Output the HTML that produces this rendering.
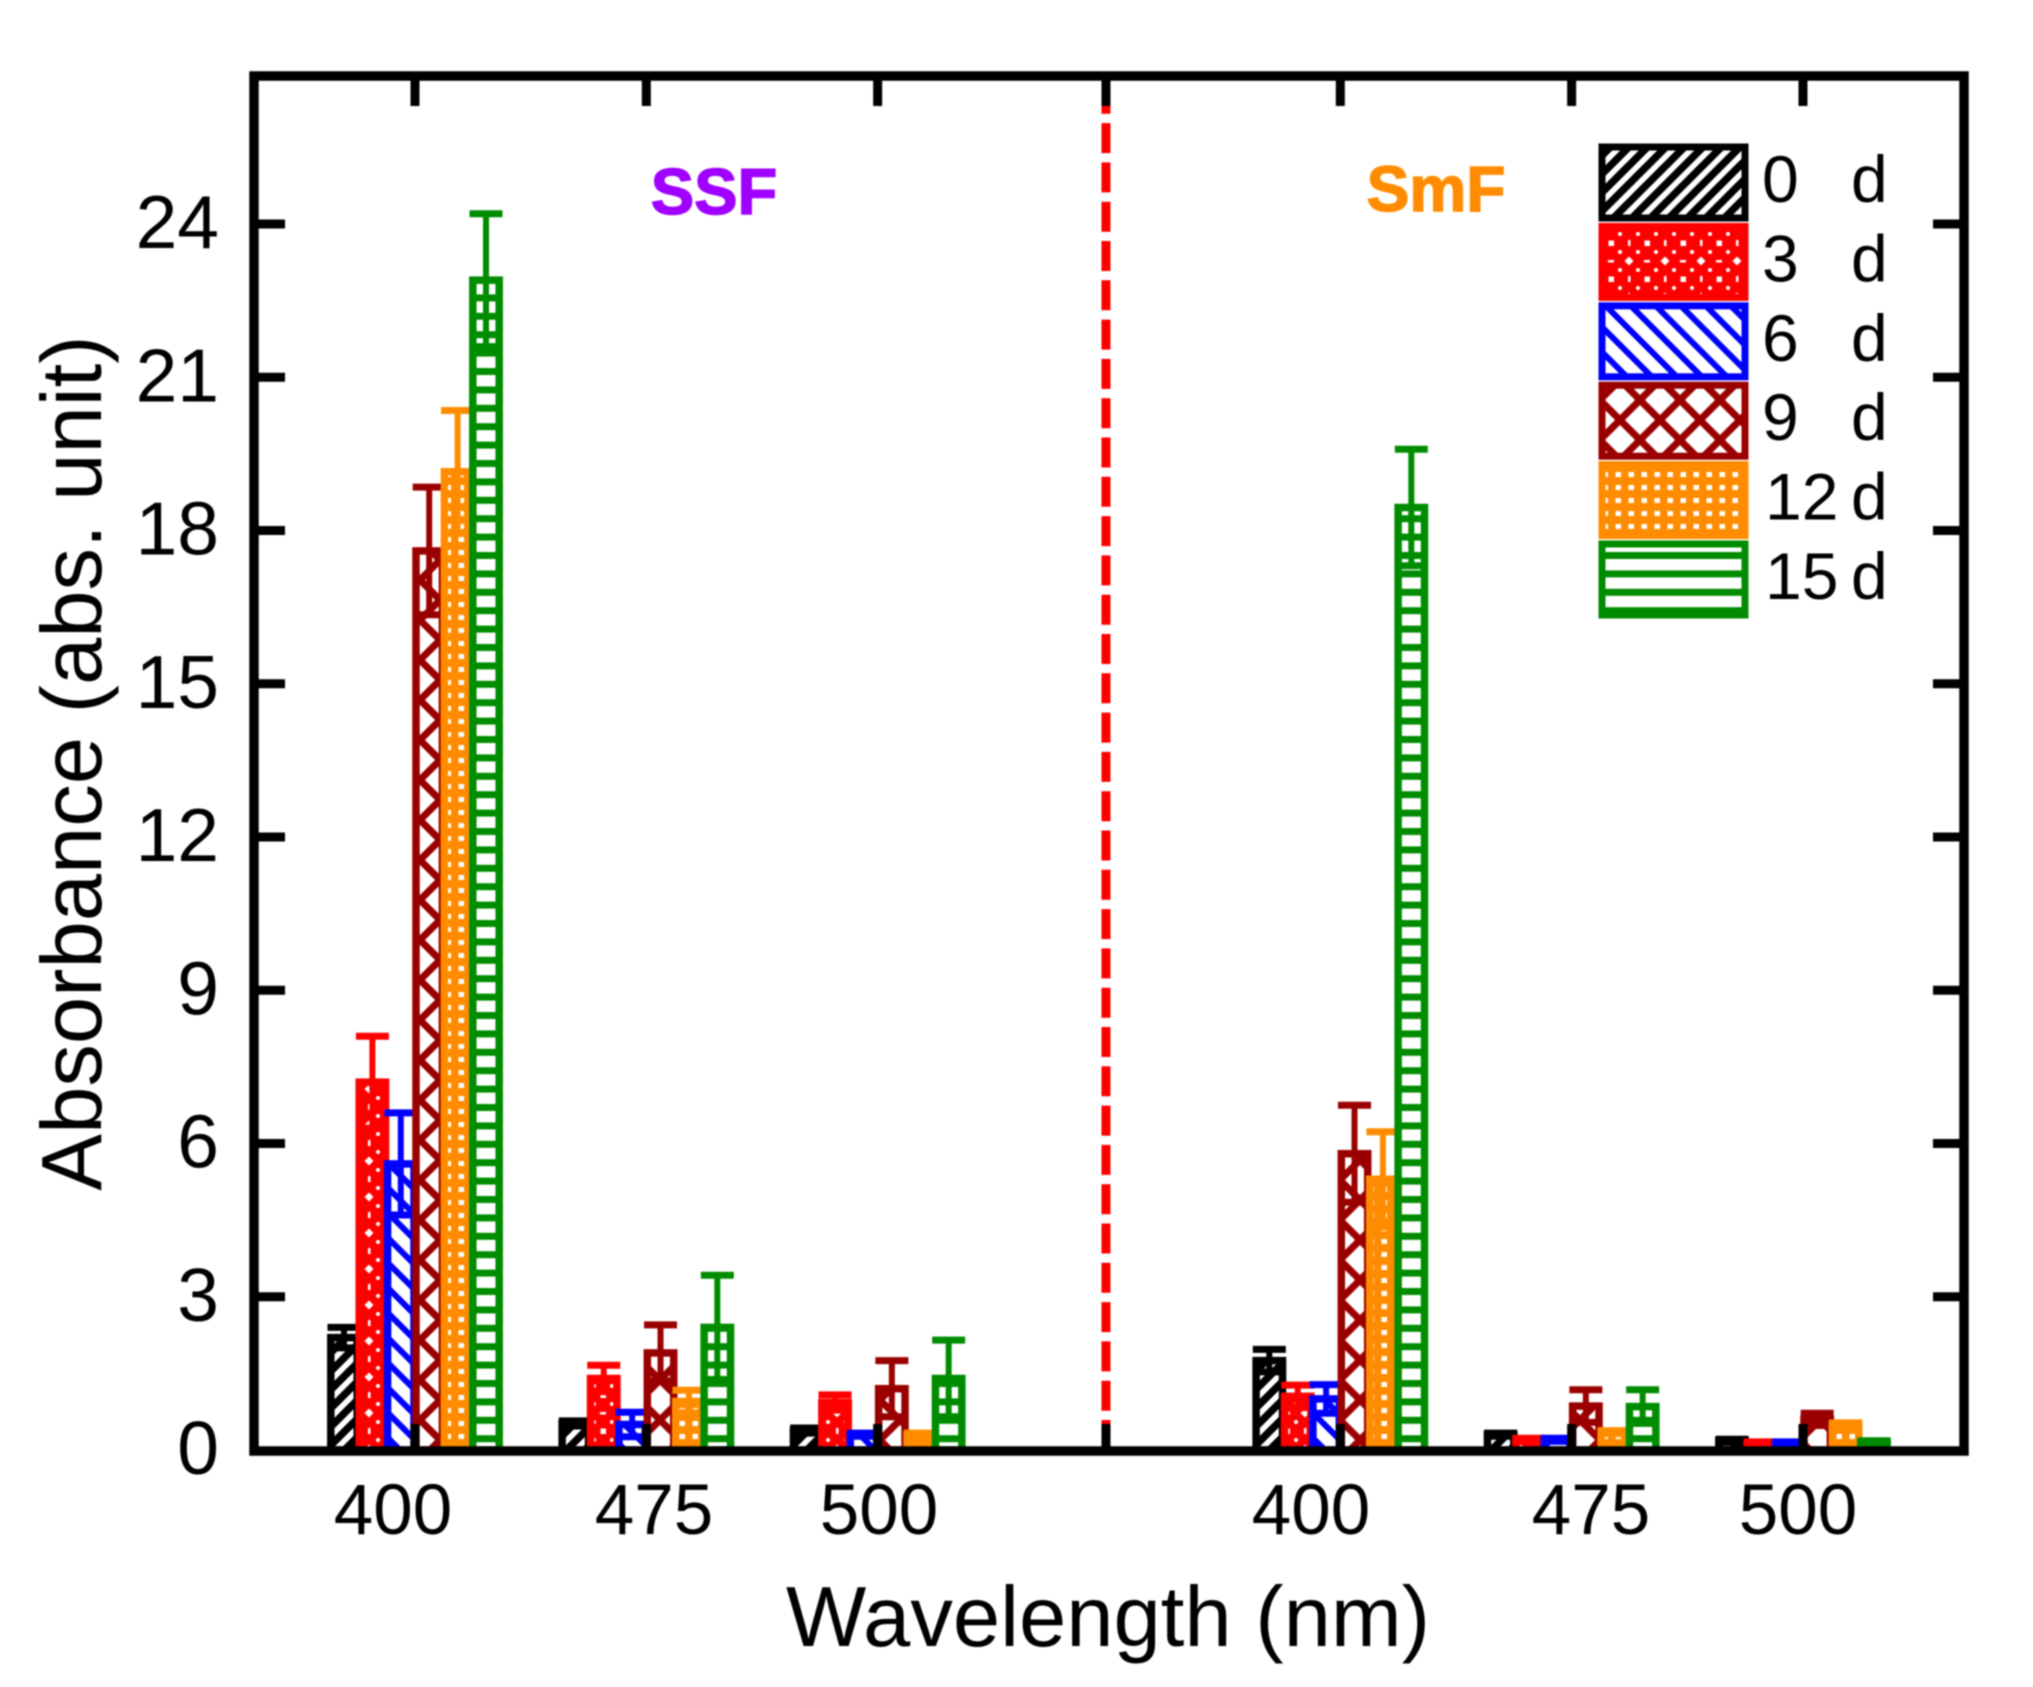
<!DOCTYPE html>
<html lang="en">
<head>
<meta charset="utf-8">
<title>Absorbance vs Wavelength</title>
<style>
html,body{margin:0;padding:0;background:#fff;width:2033px;height:1687px;overflow:hidden}
svg{display:block;filter:blur(0.9px)}
text{font-family:"Liberation Sans",sans-serif;fill:#000}
</style>
</head>
<body>
<svg id="chart" xmlns="http://www.w3.org/2000/svg" width="2033" height="1687" viewBox="0 0 2033 1687">
<defs>
  <pattern id="p0" patternUnits="userSpaceOnUse" width="18.5" height="18.5">
    <rect width="18.5" height="18.5" fill="#fff"/>
    <g stroke="#000" stroke-width="7.5"><line x1="-4" y1="4" x2="4" y2="-4"/><line x1="-4" y1="22.5" x2="22.5" y2="-4"/><line x1="14.5" y1="22.5" x2="22.5" y2="14.5"/></g>
  </pattern>
  <pattern id="p1" patternUnits="userSpaceOnUse" width="36" height="36">
    <rect width="36" height="36" fill="#f00"/>
    <g fill="#fff">
      <polygon points="9,4.5 13.5,9 9,13.5 4.5,9"/>
      <rect x="24.5" y="24.5" width="5.5" height="5.5"/>
      <rect x="24" y="8" width="6" height="2.5"/>
      <rect x="8" y="24" width="2.5" height="6"/>
      <circle cx="18" cy="18" r="2"/><circle cx="18" cy="0" r="2"/><circle cx="18" cy="36" r="2"/>
      <circle cx="0" cy="18" r="2"/><circle cx="36" cy="18" r="2"/>
      <circle cx="0" cy="0" r="2"/><circle cx="36" cy="0" r="2"/><circle cx="0" cy="36" r="2"/><circle cx="36" cy="36" r="2"/>
    </g>
  </pattern>
  <pattern id="p2" patternUnits="userSpaceOnUse" width="25" height="25">
    <rect width="25" height="25" fill="#fff"/>
    <g stroke="#00f" stroke-width="6"><line x1="-4" y1="-4" x2="29" y2="29"/><line x1="-4" y1="21" x2="4" y2="29"/><line x1="21" y1="-4" x2="29" y2="4"/></g>
  </pattern>
  <pattern id="p3" patternUnits="userSpaceOnUse" width="40" height="40">
    <rect width="40" height="40" fill="#fff"/>
    <g stroke="#9a0000" stroke-width="7">
      <line x1="-4" y1="-4" x2="44" y2="44"/><line x1="-4" y1="44" x2="44" y2="-4"/>
      <line x1="-4" y1="36" x2="4" y2="44"/><line x1="36" y1="-4" x2="44" y2="4"/>
      <line x1="-4" y1="4" x2="4" y2="-4"/><line x1="36" y1="44" x2="44" y2="36"/>
    </g>
  </pattern>
  <pattern id="p4" patternUnits="userSpaceOnUse" width="13" height="13">
    <rect width="13" height="13" fill="#ff8c00"/>
    <rect x="3.5" y="4" width="5.5" height="5" fill="#fff"/>
  </pattern>
  <pattern id="p5" patternUnits="userSpaceOnUse" width="18.4" height="18.4">
    <rect width="18.4" height="18.4" fill="#fff"/>
    <rect y="0" width="18.4" height="7" fill="#008c00"/>
  </pattern>
</defs>

<g id="bars"></g>
<line id="divider" stroke="#f00" stroke-width="9" stroke-dasharray="30 9.3"/>
<g id="axes"></g>
<rect x="254" y="76" width="1710" height="1375" fill="none" stroke="#000" stroke-width="9.5"/>

<g id="ylabels" font-size="75" text-anchor="end"></g>

<g font-size="71" text-anchor="middle">
  <text x="393" y="1534">400</text>
  <text x="654" y="1534">475</text>
  <text x="879" y="1534">500</text>
  <text x="1311" y="1534">400</text>
  <text x="1591" y="1534">475</text>
  <text x="1798" y="1534">500</text>
</g>

<text x="1108" y="1646" font-size="85" text-anchor="middle">Wavelength (nm)</text>
<text transform="translate(101,763) rotate(-90)" font-size="85" text-anchor="middle">Absorbance (abs. unit)</text>

<text x="714" y="214" font-size="65" font-weight="bold" text-anchor="middle" style="fill:#a000ff;stroke:#a000ff;stroke-width:1.5">SSF</text>
<text x="1436" y="211" font-size="64" font-weight="bold" text-anchor="middle" style="fill:#ff8c00;stroke:#ff8c00;stroke-width:1.5">SmF</text>

<g id="legend"></g>
</svg>

<script>
const categories = ['SSF 400', 'SSF 475', 'SSF 500', 'SmF 400', 'SmF 475', 'SmF 500'];
const yTickLabels = [0, 3, 6, 9, 12, 15, 18, 21, 24];
const dayLabels = ['0', '3', '6', '9', '12', '15'];

const values0d = [2.2, 0.52, 0.38, 1.75, 0.30, 0.18];
const values3d = [7.2, 1.40, 0.93, 1.05, 0.20, 0.13];
const values6d = [5.6, 0.50, 0.30, 1.00, 0.20, 0.13];
const values9d = [17.6, 1.90, 1.20, 5.80, 0.86, 0.60];
const values12d = [19.15, 0.95, 0.30, 5.30, 0.35, 0.50];
const values15d = [22.9, 2.40, 1.40, 18.45, 0.85, 0.15];

const errors0d = [0.2, 0.05, 0.05, 0.22, 0.03, 0.03];
const errors3d = [0.9, 0.26, 0.15, 0.22, 0.03, 0.03];
const errors6d = [1.0, 0.24, 0.03, 0.28, 0.03, 0.03];
const errors9d = [1.25, 0.55, 0.55, 0.95, 0.32, 0.12];
const errors12d = [1.2, 0.22, 0.03, 0.93, 0.03, 0.03];
const errors15d = [1.3, 1.02, 0.75, 1.14, 0.33, 0.03];

const seriesValues = [values0d, values3d, values6d, values9d, values12d, values15d];
const seriesErrors = [errors0d, errors3d, errors6d, errors9d, errors12d, errors15d];
const seriesColors = ['#000000', '#ff0000', '#0000ff', '#9a0000', '#ff8c00', '#008c00'];

const NS = 'http://www.w3.org/2000/svg';
const yScale = v => 1450 - v * (1226 / 24);
const xScale = slot => 415 + slot * 231.33;
const groupSlot = [0, 1, 2, 4, 5, 6];
const barStep = 28.4;
const barStroke = 7.5;

function make(tag, attrs, parent) {
  const el = document.createElementNS(NS, tag);
  for (const k in attrs) el.setAttribute(k, attrs[k]);
  parent.appendChild(el);
  return el;
}

const barsLayer = document.getElementById('bars');
seriesValues.forEach((vals, s) => {
  const color = seriesColors[s];
  vals.forEach((v, c) => {
    const cx = xScale(groupSlot[c]) + (s - 2.5) * barStep;
    const top = yScale(v);
    const err = seriesErrors[s][c];
    const bar = make('rect', {
      x: cx - (barStep - 2) / 2, y: top, width: barStep - 2, height: yScale(0) - top,
      fill: 'url(#p' + s + ')', stroke: color, 'stroke-width': barStroke
    }, barsLayer);
    
    
    const g = make('g', { stroke: color }, barsLayer);
    
    
    make('line', { x1: cx, x2: cx, y1: yScale(v + err), y2: yScale(Math.max(v - err, 0)), 'stroke-width': 6 }, g);
    make('line', { x1: cx - 16.5, x2: cx + 16.5, y1: yScale(v + err), y2: yScale(v + err), 'stroke-width': 7 }, g);
    make('line', { x1: cx - 16.5, x2: cx + 16.5, y1: yScale(Math.max(v - err, 0)), y2: yScale(Math.max(v - err, 0)), 'stroke-width': 7 }, g);
  });
});

const divider = document.getElementById('divider');
const dividerX = xScale(3) - 3;
divider.setAttribute('x1', dividerX);
divider.setAttribute('x2', dividerX);
divider.setAttribute('y1', yScale(0));
divider.setAttribute('y2', 80);

const axes = document.getElementById('axes');
[0, 1, 2, 3, 4, 5, 6].forEach(slot => {
  const x = slot === 3 ? dividerX : xScale(slot);
  const topTick = make('line', { x1: x, x2: x, y1: 78, y2: 106, stroke: '#000', 'stroke-width': 9 }, axes);
  
  
  const bottomTick = make('line', { x1: x, x2: x, y1: 1451, y2: 1424, stroke: '#000', 'stroke-width': 9 }, axes);
  
  
});

const yLabels = document.getElementById('ylabels');
yTickLabels.forEach(t => {
  const y = yScale(t);
  if (t > 0) {
    const left = make('line', { x1: 257, x2: 285, y1: y, y2: y, stroke: '#000', 'stroke-width': 9 }, axes);
    
    
    const right = make('line', { x1: 1933, x2: 1962, y1: y, y2: y, stroke: '#000', 'stroke-width': 9 }, axes);
    
    
  }
  const label = make('text', { x: 219, y: y + 24 }, yLabels);
  
  
  label.textContent = String(t);
});

const legend = document.getElementById('legend');
dayLabels.forEach((d, s) => {
  const top = 147 + s * 79.4;
  const entry = make('g', {}, legend);
  
  
  make('rect', {
    x: 1602, y: top, width: 143, height: 71,
    fill: 'url(#p' + s + ')', stroke: seriesColors[s], 'stroke-width': 7
  }, entry);
  const label = make('text', { y: top + 55, 'font-size': 66 }, entry);
  const num = make('tspan', { x: s > 3 ? 1765 : 1762 }, label);
  num.textContent = d;
  const unit = make('tspan', { x: 1851 }, label);
  unit.textContent = 'd';
});
</script>
</body>
</html>
